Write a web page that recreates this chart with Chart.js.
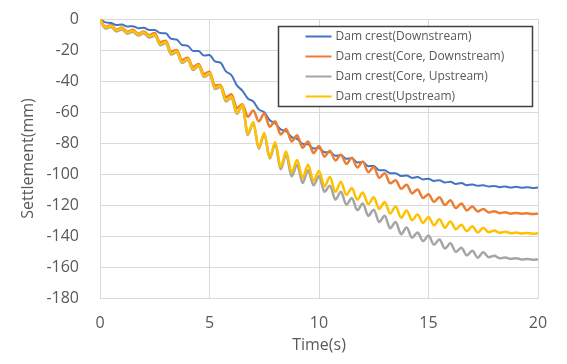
<!DOCTYPE html>
<html>
<head>
<meta charset="utf-8">
<script src="https://cdn.jsdelivr.net/npm/chart.js@4/dist/chart.umd.min.js"></script>
<style>
html,body{margin:0;padding:0;background:#fff;}
#wrap{width:567px;height:364px;}
</style>
</head>
<body>
<div id="wrap"><canvas id="c" width="567" height="364"></canvas></div>
<script>
// Time (s), every 0.25 s
const times = [0,0.25,0.5,0.75,1,1.25,1.5,1.75,2,2.25,2.5,2.75,3,3.25,3.5,3.75,4,4.25,4.5,4.75,5,5.25,5.5,5.75,6,6.25,6.5,6.75,7,7.25,7.5,7.75,8,8.25,8.5,8.75,9,9.25,9.5,9.75,10,10.25,10.5,10.75,11,11.25,11.5,11.75,12,12.25,12.5,12.75,13,13.25,13.5,13.75,14,14.25,14.5,14.75,15,15.25,15.5,15.75,16,16.25,16.5,16.75,17,17.25,17.5,17.75,18,18.25,18.5,18.75,19,19.25,19.5,19.75,20];

const labels = ["Dam crest(Downstream)","Dam crest(Core, Downstream)","Dam crest(Core, Upstream)","Dam crest(Upstream)"];

const downstream = [0,-2.2,-2.6,-3.9,-3.6,-4.9,-4.6,-5.9,-5.6,-7.1,-7.1,-9.1,-9.2,-12.8,-13.2,-16.8,-17.2,-20.6,-20.7,-23.6,-23.2,-27.3,-28.2,-33.8,-36.2,-42.8,-46.2,-51.3,-53.2,-58.3,-60.2,-65.3,-67.3,-71.2,-72.3,-76.2,-77.3,-80.5,-80.8,-83.5,-83.3,-86,-85.8,-88.2,-87.8,-90.2,-89.8,-92.5,-92.3,-95,-94.8,-97.5,-97.5,-99.5,-99.5,-101.3,-101,-102.5,-102,-103.5,-103,-104.5,-104,-105.5,-105,-106.4,-105.8,-107.2,-106.7,-107.6,-107.2,-108.1,-107.7,-108.5,-108,-108.7,-108.3,-108.8,-108.5,-109,-108.7];

const coreDownstream = [0,-5,-4,-6.8,-5.5,-8.2,-7,-9.5,-8,-10.5,-9,-15,-14,-21,-20,-26.5,-25,-31,-29,-35.5,-34,-43,-42.5,-50.5,-48.5,-57.5,-55,-63,-59,-66,-61,-69.5,-66,-74.5,-71,-79,-75,-83,-79,-86.5,-82,-88.8,-85,-91.3,-87.5,-93.5,-89.5,-95.8,-92,-98.8,-95.5,-102.5,-99.5,-106,-104,-109.5,-107,-112.5,-110,-115.5,-113,-118,-115,-120,-117,-122,-119,-123.5,-121,-124.2,-122.5,-124.8,-124,-125.3,-124.6,-125.6,-125.1,-125.6,-125.4,-125.8,-125.6];

const coreUpstream = [0,-6.2,-5.2,-8,-6.7,-9.5,-8.2,-10.7,-9.2,-11.9,-10.7,-16.9,-15.5,-22.9,-21.5,-28.4,-26.5,-32.9,-30.5,-37.4,-35.5,-45.2,-43.7,-53.2,-50.7,-61.2,-56.2,-74.7,-67.2,-83.7,-74.2,-90,-80.5,-97,-87.5,-101.5,-94,-105.8,-97.5,-107.3,-101.5,-111.5,-107.5,-116.5,-111.5,-119.8,-115.5,-123.3,-119,-127,-123,-131,-127,-135,-131,-138.8,-134.5,-141.1,-137.7,-143.3,-139.7,-145.6,-142.2,-148.1,-144.7,-150.3,-147.5,-152.5,-149.5,-154,-150.5,-153.7,-152.8,-154.4,-153.8,-154.8,-154.3,-155.1,-154.8,-155.3,-155.1];

const upstream = [0,-5.5,-4.5,-7.3,-6,-8.8,-7.5,-10,-8.5,-11.2,-10,-16.2,-14.8,-22.2,-20.8,-27.7,-25.8,-32.2,-29.8,-36.7,-34.8,-44.5,-43,-52.5,-50,-60.5,-55.5,-74,-66.5,-83,-73.5,-89.5,-79.5,-95.5,-85.5,-99,-91,-102.5,-94,-104.5,-98,-108,-102,-111.5,-105,-113.5,-109,-116.5,-112,-119.5,-115,-122.5,-118,-125.5,-121,-128.3,-123.5,-129.8,-126.2,-131.6,-127.7,-133.1,-129.2,-134.6,-130.7,-135.6,-132.7,-136.8,-133.7,-137.8,-134.7,-137.6,-136.5,-137.9,-137.2,-138.2,-137.8,-138.4,-138,-138.5,-138.3];

const xTicks = [0,5,10,15,20];
const yTicks = [0,-20,-40,-60,-80,-100,-120,-140,-160,-180];

const colors = ["#4472C4","#ED7D31","#A5A5A5","#FFC000"];
const seriesValues = [downstream, coreDownstream, coreUpstream, upstream];

const FONT = "'Open Sans', 'Noto Sans', sans-serif";
const TXT = "#595959";
const GRID = "#D9D9D9";

const datasets = seriesValues.map((vals, i) => ({
  label: labels[i],
  data: vals.map((v, k) => ({x: times[k], y: v})),
  borderColor: colors[i],
  backgroundColor: colors[i],
  borderWidth: i === 0 ? 2 : 2.5,
  pointRadius: 0,
  fill: false,
  cubicInterpolationMode: 'monotone',
  order: 4 - i
}));

const boxLegend = {
  id: 'boxLegend',
  afterDraw(chart) {
    const ctx = chart.ctx;
    const ca = chart.chartArea;
    const w = 254, h = 80;
    const x0 = Math.round(ca.right - 6 - w) + 0.5;
    const y0 = Math.round(ca.top + 7) + 0.5;
    ctx.save();
    ctx.fillStyle = '#ffffff';
    ctx.fillRect(x0, y0, w, h);
    ctx.strokeStyle = '#404040';
    ctx.lineWidth = 1.5;
    ctx.strokeRect(x0, y0, w, h);
    ctx.font = "12px " + FONT;
    ctx.textBaseline = 'middle';
    ctx.textAlign = 'left';
    chart.data.datasets.forEach((ds, i) => {
      const y = y0 + 10 + i * 20;
      ctx.strokeStyle = ds.borderColor;
      ctx.lineWidth = 2;
      ctx.beginPath();
      ctx.moveTo(x0 + 27, y);
      ctx.lineTo(x0 + 53, y);
      ctx.stroke();
      ctx.fillStyle = TXT;
      ctx.fillText(ds.label, x0 + 57, y);
    });
    ctx.restore();
  }
};

new Chart(document.getElementById('c'), {
  type: 'line',
  data: { datasets },
  plugins: [boxLegend],
  options: {
    responsive: false,
    devicePixelRatio: 1,
    animation: false,
    layout: { padding: { left: 0, right: 29, top: 19, bottom: 0 } },
    plugins: { legend: { display: false }, tooltip: { enabled: false } },
    scales: {
      x: {
        type: 'linear',
        min: 0, max: 20,
        afterBuildTicks(scale) { scale.ticks = xTicks.map(v => ({value: v})); },
        afterFit(scale) { scale.height = 66; scale.paddingLeft = 0; scale.paddingRight = 0; },
        grid: { color: GRID, lineWidth: 1, drawTicks: false },
        border: { color: GRID, width: 1 },
        ticks: { color: TXT, font: { family: FONT, size: 16 }, padding: 16, maxRotation: 0 },
        title: { display: true, text: 'Time(s)', color: TXT, font: { family: FONT, size: 16 }, padding: { top: 0, bottom: 9 } }
      },
      y: {
        type: 'linear',
        min: -180, max: 0,
        afterBuildTicks(scale) { scale.ticks = yTicks.map(v => ({value: v})); },
        afterFit(scale) { scale.width = 100; scale.paddingTop = 0; scale.paddingBottom = 0; },
        grid: { color: GRID, lineWidth: 1, drawTicks: false },
        border: { color: GRID, width: 1 },
        ticks: { color: TXT, font: { family: FONT, size: 16 }, padding: 21 },
        title: { display: true, text: 'Settlement(mm)', color: TXT, font: { family: FONT, size: 16 }, padding: { top: 19, bottom: 0 } }
      }
    }
  }
});
</script>
</body>
</html>
